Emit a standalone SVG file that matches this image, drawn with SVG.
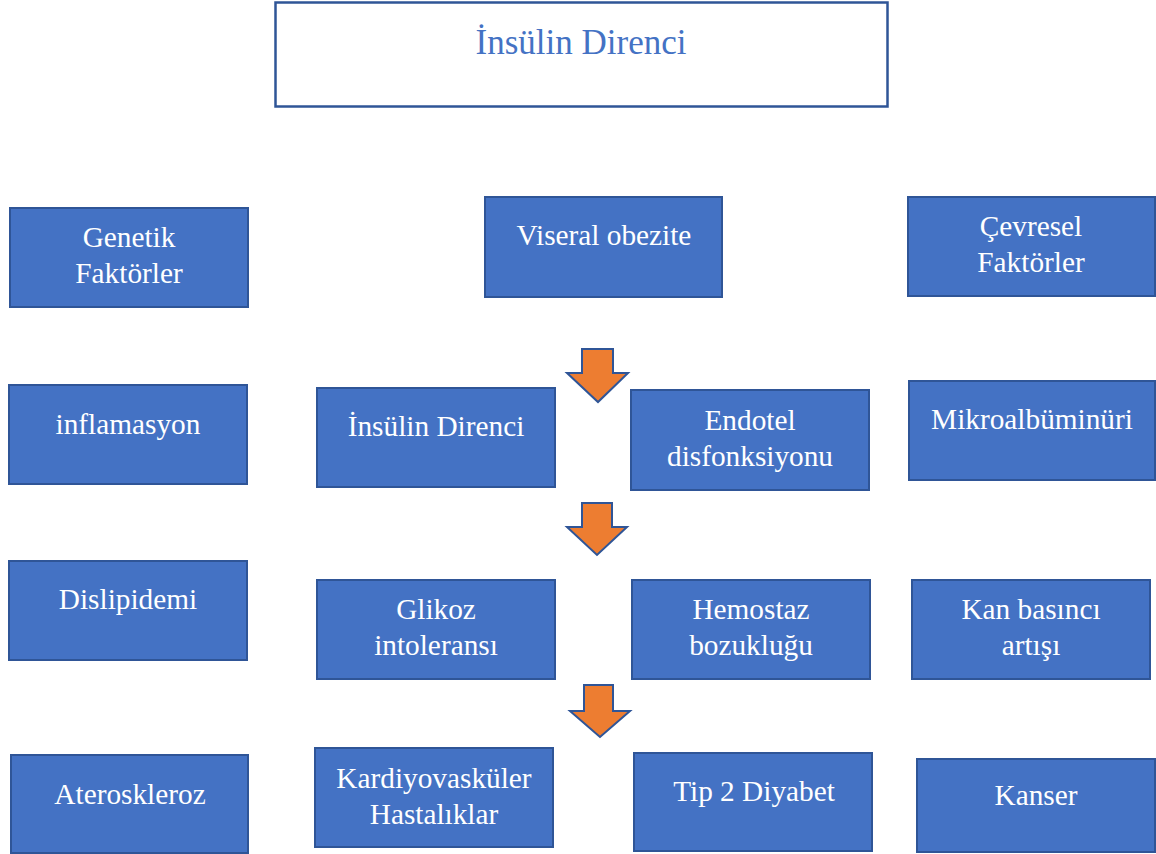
<svg xmlns="http://www.w3.org/2000/svg" width="1156" height="854" viewBox="0 0 1156 854">
<style>
.b{fill:#4472C4;stroke:#2F5597;stroke-width:2}
.t{font-family:"Liberation Serif","Times New Roman",serif;font-size:29.3px;fill:#ffffff;text-anchor:middle}
.ti{font-family:"Liberation Serif","Times New Roman",serif;font-size:35px;fill:#4472C4;text-anchor:middle}
.ar{fill:#ED7D31;stroke:#2F5597;stroke-width:2;stroke-linejoin:miter}
</style>
<rect width="1156" height="854" fill="#ffffff"/>
<g id="title"><rect x="275.5" y="2.5" width="612" height="104" fill="#ffffff" stroke="#2F5597" stroke-width="2.5"/><text class="ti" x="581" y="54">İnsülin Direnci</text></g>
<g id="genetik"><rect class="b" x="10" y="208" width="238" height="99"/><text class="t" x="129" y="247">Genetik</text><text class="t" x="129" y="283">Faktörler</text></g>
<g id="viseral"><rect class="b" x="485" y="197" width="237" height="100"/><text class="t" x="604" y="245">Viseral obezite</text></g>
<g id="cevresel"><rect class="b" x="908" y="197" width="247" height="99"/><text class="t" x="1031" y="236">Çevresel</text><text class="t" x="1031" y="272">Faktörler</text></g>
<g id="inflamasyon"><rect class="b" x="9" y="385" width="238" height="99"/><text class="t" x="128" y="434">inflamasyon</text></g>
<g id="insulin"><rect class="b" x="317" y="388" width="238" height="99"/><text class="t" x="436" y="436">İnsülin Direnci</text></g>
<g id="endotel"><rect class="b" x="631" y="390" width="238" height="100"/><text class="t" x="750" y="430">Endotel</text><text class="t" x="750" y="466">disfonksiyonu</text></g>
<g id="mikro"><rect class="b" x="909" y="381" width="246" height="99"/><text class="t" x="1032" y="429">Mikroalbüminüri</text></g>
<g id="dislipidemi"><rect class="b" x="9" y="561" width="238" height="99"/><text class="t" x="128" y="609">Dislipidemi</text></g>
<g id="glikoz"><rect class="b" x="317" y="580" width="238" height="99"/><text class="t" x="436" y="619">Glikoz</text><text class="t" x="436" y="655">intoleransı</text></g>
<g id="hemostaz"><rect class="b" x="632" y="580" width="238" height="99"/><text class="t" x="751" y="619">Hemostaz</text><text class="t" x="751" y="655">bozukluğu</text></g>
<g id="kan"><rect class="b" x="912" y="580" width="238" height="99"/><text class="t" x="1031" y="619">Kan basıncı</text><text class="t" x="1031" y="655">artışı</text></g>
<g id="atero"><rect class="b" x="11" y="755" width="237" height="98"/><text class="t" x="130" y="804">Ateroskleroz</text></g>
<g id="kardiyo"><rect class="b" x="315" y="748" width="238" height="99"/><text class="t" x="434" y="788">Kardiyovasküler</text><text class="t" x="434" y="824">Hastalıklar</text></g>
<g id="tip2"><rect class="b" x="634" y="753" width="238" height="98"/><text class="t" x="754" y="801">Tip 2 Diyabet</text></g>
<g id="kanser"><rect class="b" x="917" y="759" width="238" height="93"/><text class="t" x="1036" y="805">Kanser</text></g>
<g id="connectors">
<polygon class="ar" points="582,349 613,349 613,373 628,373 598,402 567,373 582,373"/>
<polygon class="ar" points="582,503 612,503 612,527 627,527 597,555 567,527 582,527"/>
<polygon class="ar" points="584,685 613,685 613,711 630,711 600,737 570,711 584,711"/>
</g>
</svg>
